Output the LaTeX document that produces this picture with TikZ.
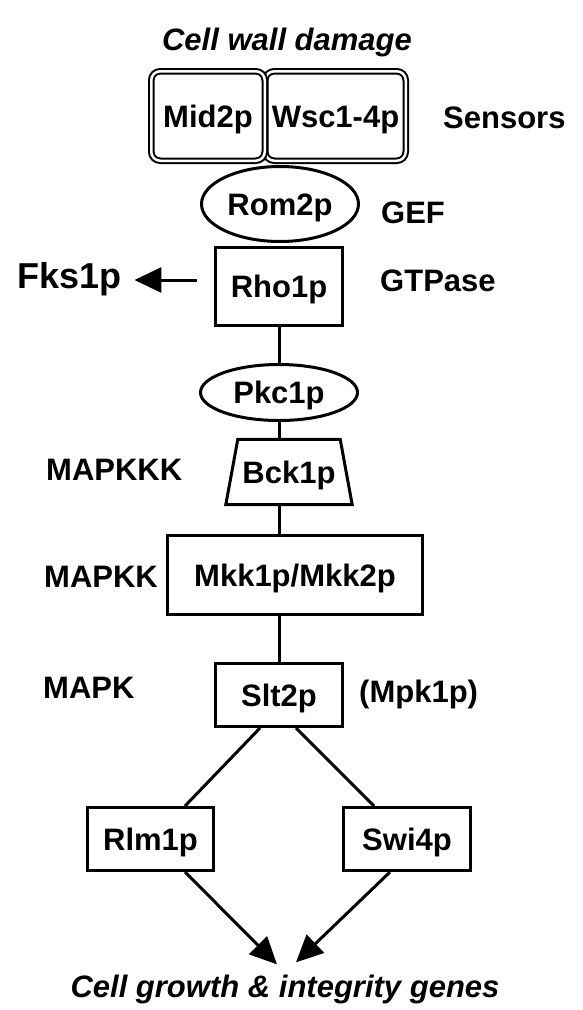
\documentclass[tikz,border=0pt]{standalone}
\usepackage{fontspec}
\setmainfont{Liberation Sans}
\usetikzlibrary{shapes.geometric,arrows.meta}
\begin{document}
\begin{tikzpicture}[x=1pt,y=-1pt,
  every node/.style={font=\fontsize{31}{36}\selectfont\bfseries},
  lbl/.style={anchor=base west, inner sep=0pt},
  boxn/.style={draw, line width=3pt, rectangle, inner sep=0pt, text height=22pt, text depth=0pt},
  ell/.style={draw, line width=3pt, ellipse, inner sep=0pt, text height=22pt, text depth=0pt},
  sens/.style={draw, line width=2pt, double, double distance=2.5pt, rounded corners=9pt, fill=white, inner sep=0pt, text height=22pt, text depth=0pt},
  conn/.style={line width=3pt},
  arr/.style={line width=3pt, -{Triangle[length=27pt,width=25pt]}},
  ital/.style={font=\fontsize{31}{36}\selectfont\bfseries\itshape, inner sep=0pt, anchor=base}
]
\useasboundingbox[fill=white] (0,0) rectangle (583,1010);

% title
\node[ital] (title) at (287,50) {Cell wall damage};

% sensors
\node[sens, minimum width=140.5pt, minimum height=89.5pt] (wsc) at (335.5,116) {Wsc1-4p};
\node[sens, minimum width=113.5pt, minimum height=89.5pt] (mid) at (208,116) {Mid2p};
\node[lbl] (sensors) at (443,128) {Sensors};

% Rom2p / Rho1p
\node[ell, minimum width=157pt, minimum height=75pt] (rom) at (280,204) {Rom2p};
\node[lbl] (gef) at (381,223) {GEF};
\node[boxn, minimum width=127pt, minimum height=78pt] (rho) at (279,286.5) {Rho1p};
\node[lbl] (gtp) at (380,291) {GTPase};
\node[lbl, font=\fontsize{36}{40}\selectfont\bfseries] (fks) at (17,288) {Fks1p};

% kinases
\node[ell, minimum width=157pt, minimum height=56pt] (pkc) at (279,392.5) {Pkc1p};
\node[inner sep=0pt, minimum width=126pt, minimum height=65pt, text height=22pt, text depth=0pt] (bck) at (289,472) {Bck1p};
\draw[line width=3pt, line join=miter] (bck.south west) -- (bck.south east)
  -- ([xshift=-12pt]bck.north east) -- ([xshift=12pt]bck.north west) -- cycle;
\node[lbl] (mkkk) at (46,480) {MAPKKK};
\node[boxn, minimum width=255pt, minimum height=79pt] (mkk) at (295,575) {Mkk1p/Mkk2p};
\node[lbl] (mkklab) at (44,587) {MAPKK};
\node[boxn, minimum width=127pt, minimum height=63pt] (slt) at (279,695) {Slt2p};
\node[lbl] (mapk) at (43,698) {MAPK};
\node[lbl] (mpk) at (359,702) {(Mpk1p)};

% transcription factors
\node[boxn, minimum width=126pt, minimum height=63pt] (rlm) at (150.5,839) {Rlm1p};
\node[boxn, minimum width=127pt, minimum height=63pt] (swi) at (407,839) {Swi4p};
\node[ital] (genes) at (285,997) {Cell growth \& integrity genes};

% connectors
\draw[conn] (rho.south) -- (rho.south |- pkc.north);
\draw[conn] (pkc.south -| rho.south) -- (bck.north -| rho.south);
\draw[conn] (bck.south -| rho.south) -- (mkk.north -| rho.south);
\draw[conn] (mkk.south -| rho.south) -- (slt.north);
\draw[conn] ([xshift=-19pt]slt.south) -- ([xshift=34.5pt]rlm.north);
\draw[conn] ([xshift=17pt]slt.south) -- ([xshift=-33pt]swi.north);
\draw[arr] ([xshift=34.5pt]rlm.south) -- ([xshift=-8pt,yshift=10pt]genes.north);
\draw[arr] ([xshift=-17pt]swi.south) -- ([xshift=11pt,yshift=12pt]genes.north);
\coordinate (rhoW) at ([yshift=6.5pt]rho.west);
\draw[arr, shorten <=17.5pt, shorten >=13pt] (rhoW) -- (rhoW -| fks.east);
\end{tikzpicture}
\end{document}
